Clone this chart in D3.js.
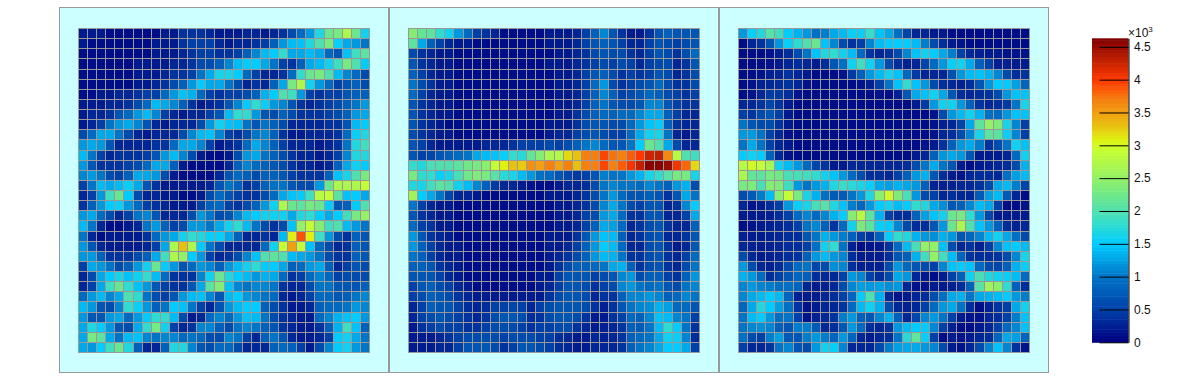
<!DOCTYPE html>
<html>
<head>
<meta charset="utf-8">
<script src="https://d3js.org/d3.v7.min.js"></script>
<style>
  html, body { margin: 0; padding: 0; background: #fff; }
  svg { display: block; }
  text { font-family: "Liberation Sans", Arial, sans-serif; }
</style>
</head>
<body>
<svg id="chart" width="1200" height="380"></svg>
<script>
// all values are in units of 100 (the palette reads x10^3)
const panelA = [
  [2,2,2,1,1,1,1,1,1,2,2,4,4,4,3,2,2,2,3,3,2,3,4,6,9,12,17,22,23,27,22,16],
  [2,1,1,1,1,1,1,1,2,2,2,4,5,5,5,3,2,3,3,4,5,8,12,14,14.5,17,20,23,15.5,13,12,10],
  [1,1,1,1,1,1,1,1,2,2,2,3,4,5,5,4,4,5,8,11,14,15,18,13,13,14,13,9,7,14.5,19,21],
  [1,1,1,1,1,1,2,2,2,2,3,3,4,6,6,8,11,14,15,15,13,10,5,4,8,13,14,16,19,23,20,15],
  [1,1,1,1,1,1,2,2,2,3,4,4,5,10,13,16.5,16.5,15,9,5,3,3,4,9,18,22,23,20,14,11,9,6],
  [1,1,1,1,1,1,2,2,3,4,6,8,12,15,13,13,10,6,3,4,3,8,13,23,27,16,12,9,5,7,8,6],
  [1,1,2,2,3,3,4,5,5,9,12,14.5,13.5,9,5,4,5,5,6,8,13.5,15,20,19,12,5,4,5,5,7,8,8],
  [2,2,2,3,3,4,6,9,14,13,11,8,4,2,3,4,7,11,15,18,15.5,12,11,7,4,3,4,5,6,8,10,12],
  [2,3,3,4,7,9,12,14,11,5,3,2,3,3,5,7,14,18,18,12,7,6,8,6,4,4,4,5,6,8,12,13],
  [2,3,5,10,12,13,11,7,3,2,3,3,3,6,12,16,14.5,14,10,7,10,8,6,3,3,3,3,4,4,7,14,15],
  [6,9,13,13,10,6,3,2,3,3,3,6,11,14,14.5,11,5,4,6,10,11,8,4,2,2,3,3,3,4,9,15.5,17],
  [12,13,12,7,3,3,3,3,4,4,9,13,13,11,5,2,3,4,9,13,11,8,5,3,3,3,2,3,4,10,17,19],
  [14,10,5,3,4,4,4,5,7,12,14,11,6,2,1,1,2,6,12,13,10,8,6,4,3,3,2,3,5,11,17,17],
  [12,7,4,4,4,5,6,9,13,13,8,2,1,1,1,1,3,8,11,9,8,7,6,4,3,3,2,3,8,13,16,15],
  [11,12,10,6,5,8,13,13,12,6,2,1,1,1,1,3,7,9,8,6,8,8,7,5,4,4,4,8,14.5,16.5,20,23],
  [5,10,14,13,14,15.5,13,7,4,2,2,2,2,2,3,7,10,8,4,5,8,9.5,10,7,6,6,12,22,27,27,27,29],
  [3,5,12,19,22,15,6,3,3,2,2,1,1,2,6,9,7,5,4,4,6,9,13,14.5,15,19,28,29,21,14.5,15,13],
  [4,8,12,15,15.5,12,9,5,4,3,2,2,2,5,8,9,5,4,6,8,12,16,27,22,21,23,22,15,7,8,15,20],
  [12,13,9,6,3,5,10,11,7,3,3,3,6,12,10,6,7,11,14,15,16,16,16,13,17,18,15,13,15,19,23,25],
  [14,10,3,1,1,2,3,10,12,8,5,6,12,12,10,13,16,18,14,10,6,4,6,14.5,25,29,24,19,20,14,12,10],
  [10,3,1,2,2,2,2,4,9,12,13,16,18,17,15.5,15.5,13,8,3,3,4,3,14,31,39,31,19,12,6,4,8,7],
  [12,7,3,2,2,2,2,3,5,13,27,33,27,15,10,6,3,3,3,3,9,16,29,35,29,14.5,9,6,3,4,8,7],
  [12,12,8,4,4,4,6,8,13,19,27,25,15,12,5,3,4,6,11,14.5,20,21,20,14,13,12,10,6,4,4,8,7],
  [5,13,12,10,6,8,12,16,22,15,12,7,9,12,11,8,12,14,16,18,15,15,13,8,9,12,13,8,3,5,7,6],
  [3,6,13,15,16.5,14.5,16,18,14,9,4,4,4,11,16,22,17,15,14,12,13.5,13,9,4,5,9,11,9,5,6,6,6],
  [3,5,13,19,22,18,14.5,12,7,5,4,4,7,13,21,24,14.5,11,10,11,11,10,4,3,3,6,10,10,7,7,7,8],
  [9,12,14,11,13,20,18,10,6,5,7,12,14,14.5,11,7,14,15,12,11,10,9,3,2,3,5,9,9,7,8,10,11],
  [14,12,7,6,11,18,15.5,12,8,10,15,14.5,10,5,3,7,12,14,15,15,8,6,4,2,2,3,8,9,9,10,12,11],
  [12,7,7,12,13,9,12,15,18,18,14,6,2,3,9,11,9,12,14.5,14,10,6,4,3,2,2,9,11,13.5,14.5,15,12],
  [13,17,15,12,7,6,13,18,23,16,5,3,4,11,11,8,6,10,11,10,8,7,4,3,2,2,4,8,13.5,19,14.5,8],
  [13,23,21,13,10,14,14.5,11,10,11,11,9,10,9,6,6,11,10,5,3,8,10,7,3,2,2,3,5,15,16,13,10],
  [13,12,15,19,22,17,8,3,3,8,17,17,11,7,6,9,9,6,3,3,3,8,9,8,5,2,6,11,15,16,12,10]
];
const panelB = [
  [24,21.5,21,18,16,12,9,5,4,3,1,1,1,1,1,2,2,2,3,5,8,11,7,4,2,2,4,7,8,7,7,7],
  [21,13,8,5,3,2,2,1,1,1,1,1,1,1,1,2,2,2,3,5,7,8,7,5,3,3,5,7,6,5,6,7],
  [6,4,3,2,2,1,1,1,1,1,1,1,1,1,1,1,2,2,3,4,6,7,6,6,4,3,5,7,6,4,6,9],
  [7,4,3,2,2,1,1,1,1,1,1,1,1,1,1,2,2,2,3,4,5,6,5,6,5,3,5,6,6,3,4,7],
  [8,5,3,2,2,1,1,1,1,1,1,1,1,1,1,1,2,2,3,5,7,8,6,4,5,4,5,7,6,3,4,6],
  [10,6,4,2,2,1,1,1,1,1,1,1,1,1,1,1,2,2,3,5,9,12,6,4,5,6,7,9,6,4,4,6],
  [9,5,3,2,2,1,1,1,1,1,1,1,1,1,1,1,2,2,3,5,8,11,8,5,6,7,9,8,6,5,4,5],
  [7,4,3,2,2,1,1,1,1,1,1,1,1,1,1,1,2,2,3,5,8,10,7,6,6,7,11,11,7,5,4,4],
  [7,4,3,2,2,1,1,1,1,1,1,1,1,1,1,1,2,2,4,6,8,9,8,9,9,11,13,13,8,5,3,3],
  [7,4,3,2,1,1,1,1,1,1,1,1,1,1,1,2,2,2,4,6,7,7,6,6,9,12,14.5,15,8,4,3,3],
  [6,4,3,2,2,1,1,1,1,1,1,1,1,1,1,2,3,3,5,6,7,6,5,5,9,13,16,16.5,10,3,2,3],
  [7,5,3,2,2,2,2,2,3,3,3,4,5,5,5,6,5,6,8,10,11,9,7,7,10,15,22,20,13,6,3,3],
  [7,5,5.5,7,8,9,10,13,14,14.5,15.5,18,17.5,21.5,24,27,27.5,32,33,37,37,39.5,37.5,37,38.5,40,42.5,43,36.5,28,20,19],
  [18,17,19.5,20,20,21,22.5,23,24.5,29,31,33,32.5,36,35,37,35,37,33,37,37,39.5,37,38.5,40.5,43,46,46,45,40.5,38,32],
  [23,18,18,15.5,16.5,19.5,22.5,23.5,23,20.5,17.5,16.5,14,12,9.5,9,7,5.5,4.5,5,7,10.5,10,10,12,13.5,16.5,18,20.5,23,23,16.5],
  [17,16.5,19,21,20,16,14,11,8,4.5,3,3,2,1.5,1,1,2,3,3,3.5,6,10,11,10,10,9,11,10,8,12,13.5,6],
  [26,15,13,10,5.5,3,3,2,1,1,1,1,1,1,1,2,2,2,3,4,6,10,12,9,7,7,8,7,4,7,13,10],
  [10,5,3,2,2,1,1,1,1,1,1,1,1,1,1,1,2,2,3,4,6,11,13,10,6,5,7,7,3,4,11,15],
  [7,4,3,2,2,1,1,1,1,1,1,1,1,1,1,1,2,2,3,5,6,12,13,9,4,4,7,7,3,3,5,13],
  [9,5,4,2,2,1,1,1,1,1,1,1,1,1,1,1,2,2,3,5,8,13,12.5,9,3,4,6,7,4,3,3,8],
  [12,7,4,3,2,1,1,1,1,1,1,1,1,1,1,2,2,2,4,7,12,14.5,14,8,3,4,6,7,3,3,4,7],
  [12,8,5,3,2,2,1,1,1,1,1,1,1,1,1,2,2,3,5,8,12,15,14,9,3,3,6,7,4,2,3,7],
  [10,8,5,3,2,2,1,1,1,1,1,1,1,1,1,2,3,4,6,8,12,14,13.5,10,4,4,6,7,4,3,5,9],
  [8,8,7,4,3,2,1,1,1,1,1,1,1,1,1,2,4,6,8,8,9,10,13,13.5,8,4,6,7,4,3,6,10],
  [7,7,7,5,3,2,1,1,1,1,1,1,1,1,2,2,5,7,7,7,5,6,7,11,12,6,8,8,5,4,8,12],
  [5,7,8,6,5,3,2,1,1,1,1,1,1,1,2,3,5,7,7,6,4,5,6,11,12,10,9,10,7,6,10,11],
  [5,6,8,7,6,4,3,2,2,2,2,2,2,2,2,4,6,7,7,6,3,4,4,8,11,11,12,11,8,9,11,10],
  [3,5,8,7,7,5,3.5,3,3.5,5,5,5.5,5,3,5,6,7,7,7,6,4,2.5,4,7,10,11,11.5,13.5,12.5,9,9,7],
  [3,5,6,7,6,5,4,3,4,6,7,7,6,3.5,4,6,7,7,6,4,2,2,4,5,9,8,11,14.5,14,11,10,5],
  [2,4,5,6,5,5,4,4,5,6,6,6,5,4,5,5,6,6,4,3,2,2.5,3,4,8,7.5,10,14,18,15,10,4],
  [2,2,2,3,4,5,6,6,6,6,5,6,6,6,5,5,3.5,3,2,2,3,2.5,3,4,8,9,10,13,16,15.5,11,3.5],
  [2,2,2,3,3,5,7,7,7,6,4,5,7,7,6,5,3.5,3,2,2,3,3,3,4,8,10,11,13,15,15,13,5]
];
const panelC = [
  [12,15.5,17,20.5,19,15,13.5,12,9.5,10.5,13,14,15.5,15.5,18.5,14.5,13,9.5,5.5,3,3,2,2,1,1,1,1,1,1,1,1,1],
  [1,3,4,7,12,15.5,18,20,22,14.5,11,6,4,5,11,14,15,15,15,14,10.5,6,3.5,2,1.5,1,1,1,1,1,1,1],
  [1,1,1,1.5,2.5,3.5,6,10,14.5,17,18,16,14,9,4,3,4,6,11,14.5,16,15,13,10.5,5,3,2.5,2,2,1.5,1.5,1.5],
  [1,1,1,1.5,2,3,3.5,3,2,3.5,7,9.5,16,19,16,12,6,3.5,2.5,3,5.5,9,12,15.5,16,13,8,5,2.5,2.5,2,2],
  [1,1,1.5,2.5,3,4,3,2,1,1,1,1.5,4.5,8,12,14,16,14.5,9,4.5,3,3,3,6.5,12,14,14.5,13.5,11,6,3.5,4],
  [1,1.5,2.5,3,3.5,4,3,1.5,1,1,1,1,1,1.5,2.5,5,10,14.5,18,14.5,12,6,3.5,3,2.5,3.5,7,12,15,15,12.5,8.5],
  [1,1.5,3,4.5,4.5,3.5,1.5,1,1,1,1,1,1,1,1,1.5,1,2.5,7,13,14.5,16,13,7,3.5,3,3.5,4,6,12,14.5,14.5],
  [3,3,4,5.5,4,2,1,1,1,1,1,1,1,1,1,1,1,1,1,2,4.5,12,16,16,12,8,4,3,3.5,4.5,10,16.5],
  [5,4,6,7,5,2,1,1,1,1,1,1,1,1,1,1,1,1,1,1,1,1.5,6,12,14,16,13.5,9.5,9,12,14.5,14.5],
  [10,7,6,6,4,2,1,1,1,1,1,1,1,1,1,1,1,1,1,1,1,1.5,2.5,3,5.5,13,21,25,23.5,16.5,11,5],
  [12,12,10,5,3,1.5,1,1,1,1,1,1,1,1,1,1,1,1,1,1,1,1.5,3,3.5,6,11,16.5,21,21,15.5,11,5],
  [10,13,10,5,3,2,1,1,1,1,1,1,1,1,1,1,1,1,1,1,1.5,2,4,8,12,13,10.5,4,6,10,16,14.5],
  [15,16,15,8,3,1.5,1,1,1,1,1,1,1,1,1,1,1,1,1,2,3,8,12,13,12,7,2,2,2,3,9,16],
  [28,30,29,26.5,16,14,12,9,5.5,4,2,2,3,3,3,3,3,3,3.5,6,10,13,10,7,2,1,2,2.5,3,3.5,6,13.5],
  [27,21.5,21,23,22.5,19.5,19.5,19,18,16,14.5,12,9,6,3.5,3.5,3,5,8,12,13.5,7,3.5,2,1.5,3,3.5,3.5,3,9.5,12.5,14],
  [23,23.5,19.5,24,23.5,19,12,10,12,13.5,17,18.5,17.5,16.5,15.5,13,12.5,13.5,13,12,8,2.5,2.5,2.5,3,3,4,6,13,14,10.5,5.5],
  [6,7.5,10.5,14,24,29,23,16.5,13.5,9.5,7.5,7.5,10,12,17,24.5,30,23.5,19.5,12,6,5,3,3.5,3,3,7.5,12.5,14,7.5,3,1],
  [3,1.5,2,3.5,5,12,15.5,16.5,19.5,20.5,17,14.5,10.5,8.5,12,15,16,14,15,18,17,13,11.5,7,8,11,14,13,5,1,1,1.5],
  [2,2,2,2.5,3.5,5,9,11,9,11,13.5,15,24,28,21,13.5,5,3.5,3.5,8,12.5,14.5,16,22,23,18,12,5.5,2,2,2,2],
  [1,1.5,2,2.5,3,3.5,5,10,11,8,4,9,16,23,21,15.5,15,11,6,3.5,3.5,7,12,22,27,20,14.5,12,8,3.5,2.5,3],
  [2.5,2,2,2.5,3,3.5,3.5,7,10,13.5,12,10.5,8,5,4,8,15,18,17,13.5,12,11.5,13.5,12,7,8.5,11,14,16,13,9.5,6],
  [3,2.5,2,2.5,3,3.5,3.5,5,9.5,16,18,10,2.5,1,1.5,2,4,9,14,19.5,25,25,14.5,6,3,4,2.5,5,11,14.5,15,14],
  [6,3,2,2.5,3,3.5,4,8,12,14,12,11,3.5,2,2,2,3.5,7,8,13.5,19,25,19,14,8.5,4,3.5,3.5,4,6,11,16.5],
  [12,6,3,2.5,3.5,6,9,10,5.5,6,11.5,11,3.5,2.5,2.5,2.5,6,12,9,7,6,5,11,14.5,15,14.5,9,6,5.5,8,13.5,15.5],
  [13.5,12,9,3.5,5,7,8.5,8,3.5,3,3,5,12,11,5,3.5,6,13,12,3,2,1,2,5,8,16,19.5,17,16,15.5,14,9],
  [11,12,11,10.5,9.5,9.5,8.5,3,2,2.5,3,6,11,12.5,12,12.5,11.5,12,3,1.5,1.5,2,2,2.5,3.5,8,20.5,26,24.5,18,8,3.5],
  [11,13,14,15,14,8.5,2.5,2,2,3,3.5,5,8.5,15,20,13.5,3,1.5,2,3,3.5,6,9.5,13,13.5,10,13,13.5,14,15,12,10.5],
  [8.5,13,17,15,12.5,9.5,4,1.5,2,3,3,4,9,14,16,13.5,6,3,2.5,3,5,9,12,13,10,3.5,1,2.5,4,5,13,16],
  [10,14,15,12,9.5,10,5,1.5,2.5,3,4,10.5,12,8,7,11,13.5,8,3,5.5,11,12,10,5,2,1.5,1.5,3,3.5,5,10.5,14.5],
  [10,11,11.5,11,8,7,10.5,10.5,7.5,3,3.5,7,12,9,3.5,3,4,12,14,15,15,11,5,2.5,1,1,2,3,5,9,11,14.5],
  [9.5,6,5,10.5,12.5,7.5,7,10.5,12,10.5,8.5,12,8.5,3,2,3,3.5,10,17.5,21.5,15.5,5,1,2,1.5,2,3,3.5,8.5,13,12.5,8.5],
  [5,3,3,4,10,11,7,6,12,16,15.5,11,3,3,3,6,10.5,12.5,13,13,12,11,6,2,1.5,3,6,11,14.5,11,4,1.5]
];

const paletteStops  = [0,5,10,15,18,20,22.5,26,29.5,31,33,35,37,40,43,46.3];
const paletteColors = ["#000080","#0040a8","#0075c8","#00ccff","#30dcd0","#50e0b0","#70e888","#a0f45a",
                       "#c8ff30","#e0f010","#e8c010","#f0a010","#f58010","#ff3800","#c02000","#800000"];
const tickValues = [0,5,10,15,20,25,30,35,40,45];
const tickLabels = ["0","0.5","1","1.5","2","2.5","3","3.5","4","4.5"];

const GRAY = "#999";
const svg = d3.select("#chart");
const color = d3.scaleLinear().domain(paletteStops).range(paletteColors);

const panels = [
  { data: panelA, frame: 59.5 },
  { data: panelB, frame: 389.5 },
  { data: panelC, frame: 719.5 }
];

function drawPanel(p) {
  const g = svg.append("g");
  g.append("rect")
    .attr("x", p.frame).attr("y", 7.5)
    .attr("width", 329).attr("height", 365)
    .attr("fill", "#ccffff")
    .attr("stroke", GRAY);

  const left = p.frame + 18.5;
  const x = d3.scaleBand().domain(d3.range(32)).range([left, left + 291]);
  const y = d3.scaleBand().domain(d3.range(32)).range([28, 352]);

  g.selectAll("g.row").data(p.data).enter()
    .append("g").attr("class", "row")
    .selectAll("rect")
    .data((row, i) => row.map((v, j) => ({ v, i, j })))
    .enter().append("rect")
    .attr("x", d => Math.round(x(d.j)) + 0.5)
    .attr("y", d => Math.round(y(d.i)) + 0.5)
    .attr("width", d => Math.round(x(d.j) + x.bandwidth()) - Math.round(x(d.j)))
    .attr("height", d => Math.round(y(d.i) + y.bandwidth()) - Math.round(y(d.i)))
    .attr("fill", d => color(d.v))
    .attr("stroke", GRAY);
}
panels.forEach(drawPanel);

// palette on the right
const barY = d3.scaleLinear().domain([0, 46.3]).range([342.3, 38.3]);
const barG = svg.append("g");
barG.selectAll("rect")
  .data(d3.range(0, 46.3, 0.5))
  .enter().append("rect")
  .attr("x", 1092).attr("width", 36.5)
  .attr("y", d => barY(Math.min(d + 0.5, 46.3)))
  .attr("height", d => barY(d) - barY(Math.min(d + 0.5, 46.3)) + 0.5)
  .attr("fill", d => color(d + 0.25));

const axis = d3.axisRight(barY)
  .tickValues(tickValues)
  .tickFormat((d, i) => tickLabels[i])
  .tickSizeInner(-29)
  .tickSizeOuter(0)
  .tickPadding(6);

const axisG = svg.append("g").attr("transform", "translate(1128.5,0)").call(axis);
axisG.selectAll("path, line").attr("stroke", "#000");
axisG.selectAll("text")
  .attr("x", 5.5)
  .attr("font-size", 12)
  .attr("font-family", "Liberation Sans, Arial, sans-serif")
  .attr("fill", "#111");

const expo = svg.append("text")
  .attr("x", 1128).attr("y", 37)
  .attr("font-size", 12)
  .attr("fill", "#111");
expo.append("tspan").text("×10");
expo.append("tspan").attr("font-size", 8).attr("dy", -5).text("3");
</script>
</body>
</html>
